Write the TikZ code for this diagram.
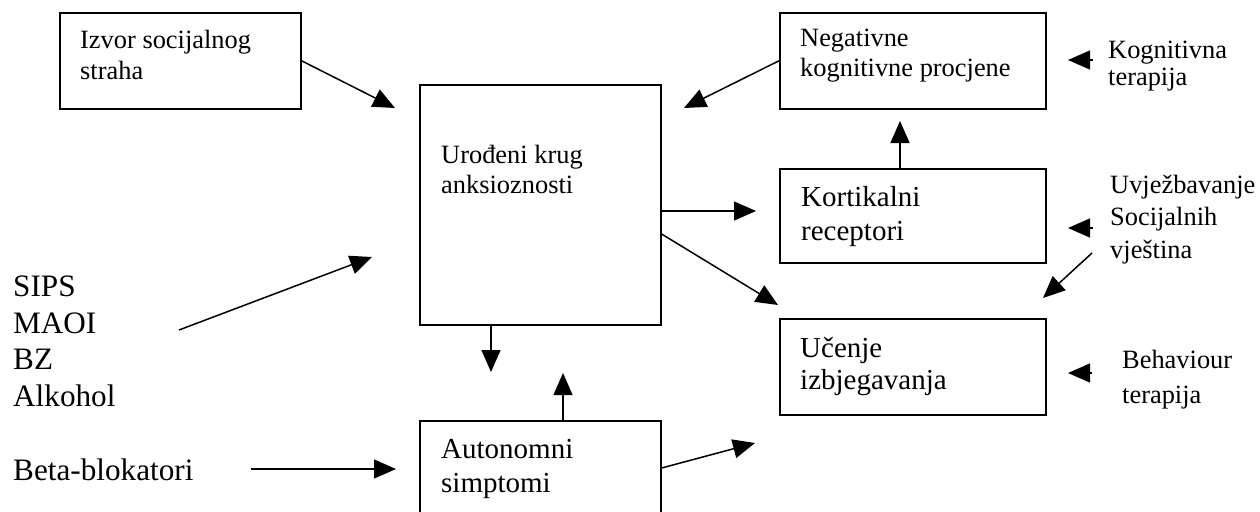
\documentclass[tikz,border=0pt]{standalone}
\usepackage{fontspec}
\setmainfont{Liberation Serif}
\usetikzlibrary{arrows.meta}
\begin{document}
\begin{tikzpicture}[x=1pt,y=-1pt,
  box/.style={draw, line width=1.6pt, anchor=north west, inner sep=0pt},
  lbl/.style={anchor=base west, inner sep=0pt, align=left},
  fs/.style={font=\fontsize{26.4}{#1}\selectfont},
  fm/.style={font=\fontsize{29}{#1}\selectfont},
  fl/.style={font=\fontsize{31.2}{#1}\selectfont},
  arr/.style={-{Triangle[length=22pt,width=19pt]}, line width=1.5pt}]
\useasboundingbox (0,0) rectangle (1260,511);
\clip (0,0) rectangle (1260,511);
% boxes
\node[box, minimum width=241pt, minimum height=96pt] (b1) at (59,12) {};
\node[box, minimum width=241pt, minimum height=240pt] (b2) at (419,84) {};
\node[box, minimum width=266pt, minimum height=96pt] (b3) at (779,12) {};
\node[box, minimum width=266pt, minimum height=94pt] (b4) at (779,168) {};
\node[box, minimum width=266pt, minimum height=96pt] (b5) at (779,318) {};
\node[box, minimum width=241pt, minimum height=110pt] (b6) at (419,420) {};
% box texts (positioned by the baseline of the last line)
\node[lbl, fs=31] (t1) at (80,79) {Izvor socijalnog\\straha};
\node[lbl, fs=30] (t2) at (441,193) {Urođeni krug\\anksioznosti};
\node[lbl, fs=30] (t3) at (800,77) {Negativne\\kognitivne procjene};
\node[lbl, fm=34] (t4) at (801,240) {Kortikalni\\receptori};
\node[lbl, fm=32] (t5) at (800,389) {Učenje\\izbjegavanja};
\node[lbl, fm=34] (t6) at (441,492) {Autonomni\\simptomi};
% outside labels
\node[lbl, fs=27] (k) at (1108,85) {Kognitivna\\terapija};
\node[lbl, fs=32.5] (u) at (1110,258) {Uvježbavanje\\Socijalnih\\vještina};
\node[lbl, fs=35] (bh) at (1122,403) {Behaviour\\terapija};
\node[lbl, fl=36.5] (d) at (13,406) {SIPS\\MAOI\\BZ\\Alkohol};
\node[lbl, fl=36] (bb) at (13,480) {Beta-blokatori};
% free ends
\coordinate (e1) at (395,108);
\coordinate (e2) at (684,108);
\coordinate (e3) at (756,211);
\coordinate (e4s) at (660,234);
\coordinate (e4) at (778,305);
\coordinate (e5) at (491,372);
\coordinate (e6) at (563,373);
\coordinate (e7s) at (660,468);
\coordinate (e7) at (755,443);
\coordinate (e8) at (900,121);
\coordinate (e9s) at (179,330);
\coordinate (e9) at (372,257);
\coordinate (e10s) at (251,469);
\coordinate (e10) at (396,469);
\coordinate (e11s) at (1093,60);
\coordinate (e11) at (1068,60);
\coordinate (e12s) at (1093,228);
\coordinate (e12) at (1068,228);
\coordinate (e13s) at (1092,253);
\coordinate (e13) at (1043,298);
\coordinate (e14s) at (1092,373);
\coordinate (e14) at (1068,373);
% connectors
\draw[arr] (b1.east) -- (e1);
\draw[arr] (b3.west) -- (e2);
\draw[arr] (b2.east |- e3) -- (e3);
\draw[arr] (b2.east |- e4s) -- (e4);
\draw[arr] (e5 |- b2.south) -- (e5);
\draw[arr] (e6 |- b6.north) -- (e6);
\draw[arr] (b6.east |- e7s) -- (e7);
\draw[arr] (e8 |- b4.north) -- (e8);
\draw[arr] (e9s) -- (e9);
\draw[arr] (e10s) -- (e10);
\draw[arr] (e11s) -- (e11);
\draw[arr] (e12s) -- (e12);
\draw[arr] (e13s) -- (e13);
\draw[arr] (e14s) -- (e14);
\end{tikzpicture}
\end{document}
